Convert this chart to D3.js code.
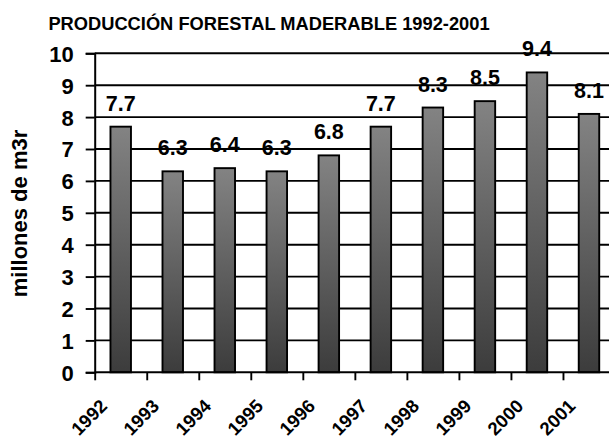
<!DOCTYPE html>
<html>
<head>
<meta charset="utf-8">
<script src="https://cdn.jsdelivr.net/npm/d3@7/dist/d3.min.js"></script>
<style>
  html, body { margin: 0; padding: 0; background: #fff; }
  svg { display: block; }
  text { font-family: "Liberation Sans", Arial, sans-serif; font-weight: bold; fill: #000; }
</style>
</head>
<body>
<svg id="chart" width="609" height="441"></svg>
<script>
const years = ["1992","1993","1994","1995","1996","1997","1998","1999","2000","2001"];
const values = [7.7, 6.3, 6.4, 6.3, 6.8, 7.7, 8.3, 8.5, 9.4, 8.1];
const yTicks = [0,1,2,3,4,5,6,7,8,9,10];
const valueLabels = ["7.7","6.3","6.4","6.3","6.8","7.7","8.3","8.5","9.4","8.1"];
const titleText = "PRODUCCIÓN FORESTAL MADERABLE 1992-2001";
const yTitleText = "millones de m3r";

const svg = d3.select("#chart");
const mLeft = 94.7, mRight = 615, mTop = 53.3, mBottom = 372.3;

const x = d3.scaleBand().domain(years).range([mLeft, mRight]).padding(0);
const y = d3.scaleLinear().domain([0, 10]).range([mBottom, mTop]);

const defs = svg.append("defs");
const grad = defs.append("linearGradient").attr("id", "barGrad")
  .attr("x1", 0).attr("y1", 0).attr("x2", 0).attr("y2", 1);
grad.append("stop").attr("offset", "0%").attr("stop-color", "#838383");
grad.append("stop").attr("offset", "100%").attr("stop-color", "#3c3c3c");

// gridlines
svg.append("g").selectAll("line").data(yTicks.filter(d => d > 0)).join("line")
  .attr("x1", mLeft).attr("x2", 609)
  .attr("y1", d => y(d)).attr("y2", d => y(d))
  .attr("stroke", "#000").attr("stroke-width", 1.9);

// y axis
const yAxis = svg.append("g").attr("transform", `translate(${mLeft},0)`)
  .call(d3.axisLeft(y).tickValues(yTicks).tickSize(9).tickPadding(12).tickFormat(d3.format("d")));
yAxis.select(".domain").attr("stroke", "#000").attr("stroke-width", 2);
yAxis.selectAll(".tick line").attr("stroke", "#000").attr("stroke-width", 1.9);
yAxis.selectAll(".tick text").style("font-size", "22px").style("font-family", "Liberation Sans, Arial, sans-serif")
  .style("font-weight", "bold").attr("fill", "#000").attr("dy", "0.36em");

// bars
const bw = 20.5;
svg.append("g").selectAll("rect").data(values).join("rect")
  .attr("x", (d, i) => x(years[i]) + x.bandwidth() / 2 - bw / 2)
  .attr("width", bw)
  .attr("y", d => y(d))
  .attr("height", d => y(0) - y(d))
  .attr("fill", "url(#barGrad)")
  .attr("stroke", "#000").attr("stroke-width", 1.9);

// x axis
const xAxisScale = d3.scalePoint().domain(years).range([mLeft, mLeft + x.step() * (years.length - 1)]);
const xAxis = svg.append("g").attr("transform", `translate(0,${mBottom})`)
  .call(d3.axisBottom(xAxisScale).tickSize(8).tickSizeOuter(0));
xAxis.select(".domain").attr("stroke", "#000").attr("stroke-width", 2).attr("d", `M${mLeft},0H609`);
xAxis.selectAll(".tick line").attr("stroke", "#000").attr("stroke-width", 1.9);
xAxis.selectAll(".tick text")
  .attr("transform", "translate(13,35) rotate(-45)")
  .attr("x", 0).attr("y", 0).attr("dy", 0)
  .style("text-anchor", "end")
  .style("font-size", "18.5px").style("font-family", "Liberation Sans, Arial, sans-serif")
  .style("font-weight", "bold").attr("fill", "#000");

// value labels
svg.append("g").selectAll("text").data(values).join("text")
  .attr("x", (d, i) => x(years[i]) + x.bandwidth() / 2)
  .attr("y", d => y(d) - 16)
  .attr("text-anchor", "middle")
  .style("font-size", "21.5px")
  .text((d, i) => valueLabels[i]);

// title
svg.append("text").attr("x", 269).attr("y", 30).attr("text-anchor", "middle")
  .style("font-size", "18.3px").text(titleText);

// y title
svg.append("text").attr("transform", "translate(27,213.5) rotate(-90)")
  .attr("text-anchor", "middle").style("font-size", "22px").text(yTitleText);
</script>
</body>
</html>
